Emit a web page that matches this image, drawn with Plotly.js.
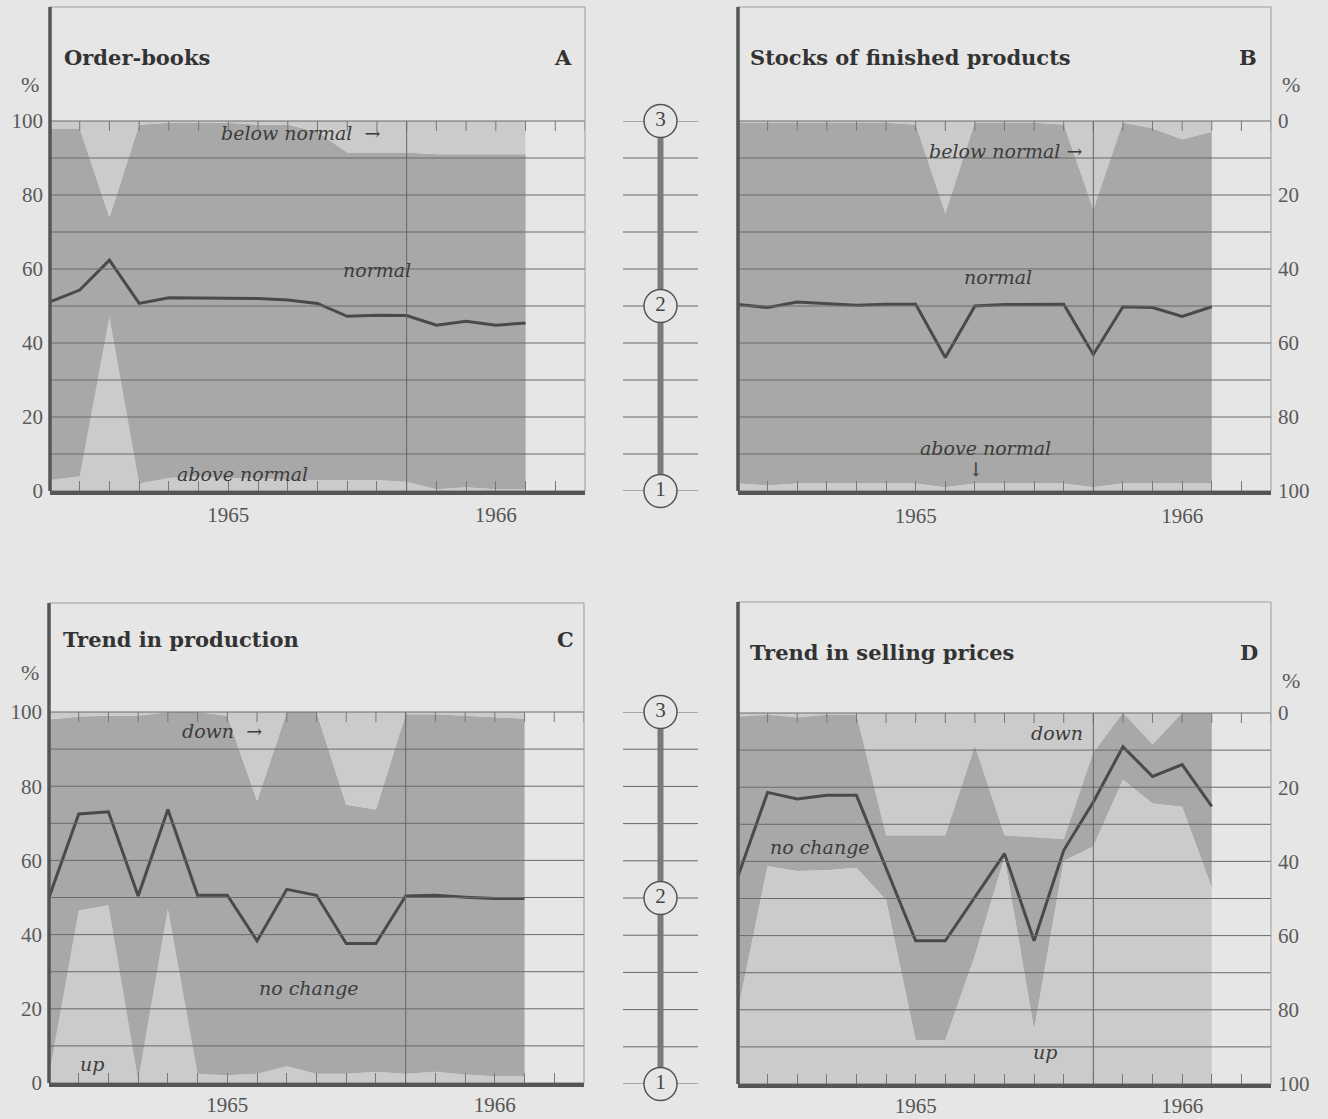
<!DOCTYPE html>
<html>
<head>
<meta charset="utf-8">
<script src="https://cdn.plot.ly/plotly-3.0.1.min.js"></script>
<style>
html,body{margin:0;padding:0;background:#e6e6e6;}
#chart{width:1328px;height:1119px;}
</style>
</head>
<body>
<div id="chart"></div>
<script>
// ---------------- DATA ----------------
// survey months (index of month, one survey per month)
const months = [0,1,2,3,4,5,6,7,8,9,10,11,12,13,14,15,16];
const axisMonths = [0,1,2,3,4,5,6,7,8,9,10,11,12,13,14,15,16,17,18];
const yearTickPositions = [6, 15];
const yearTickLabels = ['1965', '1966'];
const percentTicks = [0, 20, 40, 60, 80, 100];
const scaleLevels = [1, 2, 3];
const scaleLabels = ['1', '2', '3'];

// A: Order-books (percent from bottom)
const orderAboveNormal = [3, 4, 47, 2, 3.5, 4, 3.5, 3.5, 3, 3, 3, 3, 2.5, 0.5, 1, 0.5, 0.5];
const orderNormalTop   = [98, 98, 74, 99, 99.5, 99.5, 99.5, 99, 99, 97, 91.5, 91.5, 91.5, 91, 91, 91, 91];
const orderBalance     = [51.1, 54.3, 62.4, 50.7, 52.2, 52.2, 52.2, 52.0, 51.6, 50.7, 47.2, 47.5, 47.4, 44.8, 45.9, 44.8, 45.4];

// B: Stocks of finished products (percent from top)
const stocksBelowNormal = [0.5, 0.5, 0.5, 0.5, 0.5, 0.5, 1, 25, 0.5, 0.5, 0.5, 1, 24, 0.5, 2, 5, 3];
const stocksNormalBottom = [98, 98.5, 98, 98, 98, 98, 98, 99, 98, 98, 98, 98, 99, 98, 98, 98, 98];
const stocksBalance = [49.6, 50.4, 48.9, 49.3, 49.8, 49.5, 49.5, 63.9, 50.0, 49.6, 49.5, 49.5, 63.1, 50.2, 50.4, 52.8, 50.2];

// C: Trend in production (percent from bottom)
const prodUp          = [2, 46.5, 47.9, 0.7, 47, 2.5, 2.1, 2.5, 4.5, 2.5, 2.5, 3, 2.5, 3, 2.3, 1.8, 1.8];
const prodNoChangeTop = [98, 98.8, 99, 99, 100, 100, 99, 76, 100, 100, 75, 73.7, 99.4, 99.4, 99, 98.5, 98.2];
const prodBalance     = [50, 72.5, 73.1, 50.4, 73.7, 50.6, 50.6, 38.3, 52.2, 50.6, 37.6, 37.6, 50.4, 50.6, 50.1, 49.7, 49.7];

// D: Trend in selling prices (percent from top)
const priceDown           = [1, 0.5, 1.2, 0.5, 0.5, 33, 33, 33, 8.9, 33, 33.5, 34, 10.7, 0, 8.5, 0, 0];
const priceNoChangeBottom = [80, 41.3, 42.6, 42.4, 41.7, 50.4, 88.2, 88.2, 65.4, 39, 85.4, 39.9, 36, 18, 24.4, 25.3, 47.2];
const priceBalance        = [44, 21.4, 23.2, 22.2, 22.2, 41.7, 61.4, 61.4, 49.6, 37.9, 61.4, 37.0, 24, 9.1, 17.1, 13.9, 25.2];

// ---------------- STYLE / GEOMETRY ----------------
const W = 1328, H = 1119;
const BG = '#e6e6e6', DARK = '#a8a8a8', LIGHT = '#cbcbcb', LINE = '#4a4a4a';
const SERIF = 'Liberation Serif';
const BOLD = 'DejaVu Serif';
const ITAL = 'DejaVu Serif';

const panels = [
  {n:'', title:'Order-books', letter:'A', left:50, right:585, top:7, y0:491, y100:121, reversed:false, standoff:2,
   inner:orderAboveNormal, outer:orderNormalTop, line:orderBalance,
   titleY:58, letterX:563, pct:[30,85],
   labels:[['below normal  →',300,133],['normal',377,270],['above normal',242,474]]},
  {n:'2', title:'Stocks of finished products', letter:'B', left:738, right:1271, top:7, y0:121, y100:491, reversed:true, standoff:3,
   inner:stocksBelowNormal, outer:stocksNormalBottom, line:stocksBalance,
   titleY:58, letterX:1248, pct:[1291,84],
   labels:[['below normal →',1005,151],['normal',998,277],['above normal',985,448],['↓',976,469]]},
  {n:'3', title:'Trend in production', letter:'C', left:49, right:584, top:603, y0:1083, y100:712, reversed:false, standoff:0,
   inner:prodUp, outer:prodNoChangeTop, line:prodBalance,
   titleY:639, letterX:565, pct:[30,672],
   labels:[['down  →',222,731],['no change',309,988],['up',92,1064]]},
  {n:'4', title:'Trend in selling prices', letter:'D', left:738, right:1271, top:602, y0:713, y100:1084, reversed:true, standoff:0,
   inner:priceDown, outer:priceNoChangeBottom, line:priceBalance,
   titleY:652, letterX:1249, pct:[1291,680],
   labels:[['down',1057,733],['no change',820,847],['up',1045,1052]]}
];

const px = x => x / W;
const py = y => 1 - y / H;

const traces = [];
const shapes = [];
const annotations = [];
const layout = {
  width: W, height: H,
  margin: {l:0, r:0, t:0, b:0},
  paper_bgcolor: BG, plot_bgcolor: BG,
  showlegend: false, hovermode: false,
  font: {family: SERIF, color: '#555'}
};

const fullScale = months.map(() => 100);
const yearText = axisMonths.map(m => {
  const k = yearTickPositions.indexOf(m);
  return k >= 0 ? yearTickLabels[k] : '';
});

panels.forEach(p => {
  const xa = 'x' + p.n, ya = 'y' + p.n;
  const xKey = 'xaxis' + p.n, yKey = 'yaxis' + p.n;
  const bottomPx = Math.max(p.y0, p.y100);
  const vAt = pix => (pix - p.y0) / (p.y100 - p.y0) * 100;
  const topVal = p.reversed ? 0 : 100;
  const dir = p.reversed ? 1 : -1;

  layout[xKey] = {
    domain: [px(p.left), px(p.right)], range: [0, 18], anchor: ya,
    showgrid: false, zeroline: false,
    showline: true, linecolor: '#555', linewidth: 4,
    ticks: 'inside', ticklen: 10, tickwidth: 1, tickcolor: '#777',
    tickvals: axisMonths, ticktext: yearText,
    tickfont: {family: SERIF, size: 21, color: '#555'},
    ticklabelstandoff: p.standoff, fixedrange: true
  };
  layout[yKey] = {
    domain: [py(bottomPx), py(p.top)], range: [vAt(bottomPx), vAt(p.top)], anchor: xa,
    side: p.reversed ? 'right' : 'left',
    showgrid: false, zeroline: false, showline: false, ticks: '',
    tickvals: percentTicks, ticktext: percentTicks.map(String),
    tickfont: {family: SERIF, size: 21, color: '#5a5a5a'},
    ticklabelstandoff: 6, fixedrange: true
  };

  // stacked bands
  traces.push({x: months, y: p.inner, xaxis: xa, yaxis: ya, type: 'scatter', mode: 'lines',
               line: {width: 0}, fill: 'tozeroy', fillcolor: LIGHT, hoverinfo: 'skip'});
  traces.push({x: months, y: p.outer, xaxis: xa, yaxis: ya, type: 'scatter', mode: 'lines',
               line: {width: 0}, fill: 'tonexty', fillcolor: DARK, hoverinfo: 'skip'});
  traces.push({x: months, y: fullScale, xaxis: xa, yaxis: ya, type: 'scatter', mode: 'lines',
               line: {width: 0}, fill: 'tonexty', fillcolor: LIGHT, hoverinfo: 'skip'});
  traces.push({x: months, y: p.line, xaxis: xa, yaxis: ya, type: 'scatter', mode: 'lines',
               line: {width: 3, color: LINE}, hoverinfo: 'skip'});

  // gridlines every 10 %
  for (let v = 0; v <= 100; v += 10) {
    shapes.push({type: 'line', xref: xa + ' domain', yref: ya, x0: 0, x1: 1, y0: v, y1: v,
                 line: {color: '#6a6a6a', width: 1}, layer: 'above'});
  }
  // top month ticks hanging from the top line
  axisMonths.forEach(m => {
    shapes.push({type: 'line', xref: xa, yref: ya, x0: m, x1: m, y0: topVal, y1: topVal + dir * 2.7,
                 line: {color: '#777', width: 1}, layer: 'above'});
  });
  // year divider
  shapes.push({type: 'line', xref: xa, yref: ya, x0: 12, x1: 12, y0: 0, y1: 100,
               line: {color: '#666', width: 1}, layer: 'above'});
  // frame
  shapes.push({type: 'line', xref: xa + ' domain', yref: ya + ' domain', x0: 0, x1: 1, y0: 1, y1: 1,
               line: {color: '#9c9c9c', width: 1}, layer: 'above'});
  shapes.push({type: 'line', xref: xa + ' domain', yref: ya + ' domain', x0: 1, x1: 1, y0: 0, y1: 1,
               line: {color: '#9c9c9c', width: 1}, layer: 'above'});
  shapes.push({type: 'line', xref: xa + ' domain', yref: ya + ' domain', x0: 0, x1: 0, y0: 0, y1: 1,
               line: {color: '#555', width: 3.5}, layer: 'above'});

  // titles
  annotations.push({xref: 'paper', yref: 'paper', x: px(p.left + (p.reversed ? 10 : 12)), y: py(p.titleY),
                    xanchor: 'left', yanchor: 'middle', showarrow: false, text: p.title,
                    font: {family: BOLD, size: 21, color: '#333', weight: 'bold'}});
  annotations.push({xref: 'paper', yref: 'paper', x: px(p.letterX), y: py(p.titleY),
                    xanchor: 'center', yanchor: 'middle', showarrow: false, text: p.letter,
                    font: {family: BOLD, size: 21, color: '#333', weight: 'bold'}});
  annotations.push({xref: 'paper', yref: 'paper', x: px(p.pct[0]), y: py(p.pct[1]),
                    xanchor: 'center', yanchor: 'middle', showarrow: false, text: '%',
                    font: {family: SERIF, size: 22, color: '#5a5a5a'}});
  p.labels.forEach(l => {
    annotations.push({xref: 'paper', yref: 'paper', x: px(l[1]), y: py(l[2]),
                      xanchor: 'center', yanchor: 'middle', showarrow: false, text: l[0],
                      font: {family: ITAL, size: 19, color: '#3c3c3c', style: 'italic'}});
  });
});

// central 1-2-3 scales
const scales = [
  {n:'5', top:121, bottom:491},
  {n:'6', top:712, bottom:1084}
];
scales.forEach(s => {
  const xa = 'x' + s.n, ya = 'y' + s.n;
  layout['xaxis' + s.n] = {domain: [px(623), px(698)], range: [-1, 1], anchor: ya,
                           visible: false, fixedrange: true};
  layout['yaxis' + s.n] = {domain: [py(s.bottom), py(s.top)], range: [1, 3], anchor: xa,
                           visible: false, fixedrange: true};
  for (let v = 1; v <= 3.0001; v += 0.2) {
    shapes.push({type: 'line', xref: xa + ' domain', yref: ya, x0: 0, x1: 1, y0: v, y1: v,
                 line: {color: '#666', width: 1}, layer: 'below'});
  }
  traces.push({x: [0, 0], y: [scaleLevels[0], scaleLevels[scaleLevels.length - 1]], xaxis: xa, yaxis: ya,
               type: 'scatter', mode: 'lines', line: {width: 6, color: '#7a7a7a'}, hoverinfo: 'skip'});
  traces.push({x: scaleLevels.map(() => 0), y: scaleLevels, xaxis: xa, yaxis: ya,
               type: 'scatter', mode: 'markers+text', text: scaleLabels, textposition: 'middle center',
               textfont: {family: SERIF, size: 21, color: '#444'},
               marker: {size: 33, color: BG, line: {width: 1.5, color: '#555'}},
               cliponaxis: false, hoverinfo: 'skip'});
});

layout.shapes = shapes;
layout.annotations = annotations;

Plotly.newPlot('chart', traces, layout, {staticPlot: true, displayModeBar: false});
</script>
</body>
</html>
